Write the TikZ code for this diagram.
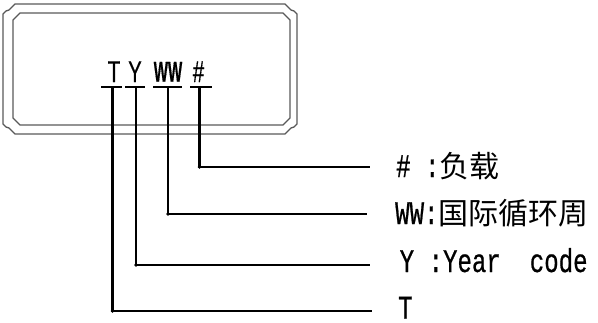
\documentclass[tikz,border=0pt]{standalone}
\usepackage{fontspec}
\newfontfamily\labf[FakeStretch=0.73,FakeBold=0.6]{Liberation Mono}
\newfontfamily\cjkf{Noto Sans CJK SC}
\newfontfamily\boxf[FakeStretch=0.68,FakeBold=0.4]{Liberation Sans}
\begin{document}
\begin{tikzpicture}[x=1pt,y=-1pt,
  pkg/.style={draw=black!65, line width=1.3pt, line join=round},
  lead/.style={draw=black, line width=2.6pt, line join=miter},
  tbar/.style={draw=black, line width=2.8pt},
  code/.style={inner sep=0pt, anchor=base, font=\boxf\fontsize{30}{30}\selectfont},
  lab/.style={inner sep=0pt, anchor=base west, font=\labf\fontsize{33}{33}\selectfont},
  jn/.style={fill=black}]
\useasboundingbox (0,0) rectangle (598,322);
% package outline
\draw[pkg] (3,14) -- (3,124) -- (6,127) -- (9,128) -- (15,134) -- (285,134)
  -- (291,128) -- (294,127) -- (297,124) -- (297,14) -- (294,11) -- (291,10)
  -- (285,4) -- (15,4) -- (9,10) -- (6,11) -- cycle;
\draw[pkg] (13,20) -- (13,118) -- (20,125) -- (283,125) -- (290,118)
  -- (290,20) -- (283,13) -- (20,13) -- cycle;
% marking text
\node[code] (tc) at (114,82) {T};
\node[code] (yc) at (135,82) {Y};
\node[code] (wc) at (168,81.5) {\scalebox{0.74}[0.95]{\bfseries WW}};
\node[code] (hc) at (198.5,82) {\#};
% bars
\coordinate (tb) at (112.5,87);
\coordinate (yb) at (136,87);
\coordinate (wb) at (168,87);
\coordinate (hb) at (199.5,87);
\draw[tbar] (101,87) -- (122,87);
\draw[tbar] (125,87) -- (145,87);
\draw[tbar] (153,87) -- (182,87);
\draw[tbar] (190,87) -- (212,87);
% line ends
\coordinate (te) at (372,311);
\coordinate (ye) at (370,265);
\coordinate (we) at (367,214);
\coordinate (he) at (370,167);
% leaders
\draw[lead] (tb) |- (te);
\draw[lead] (yb) |- (ye);
\draw[lead] (wb) |- (we);
\draw[lead] (hb) |- (he);
\fill[jn] (tb |- te) circle (1.9);
\fill[jn] (yb |- ye) circle (1.9);
\fill[jn] (wb |- we) circle (1.9);
\fill[jn] (hb |- he) circle (1.9);
% labels
\node[lab] (hl) at (396,177) {\#\ :{\cjkf\fontsize{30}{30}\selectfont 负载}};
\node[lab] (wl) at (395,224) {WW:{\cjkf\fontsize{30}{30}\selectfont 国际循环周}};
\node[lab] (yl) at (399.5,272) {Y\ :Year\ \ code};
\node[lab] (tl) at (398,318.5) {T};
\end{tikzpicture}
\end{document}
